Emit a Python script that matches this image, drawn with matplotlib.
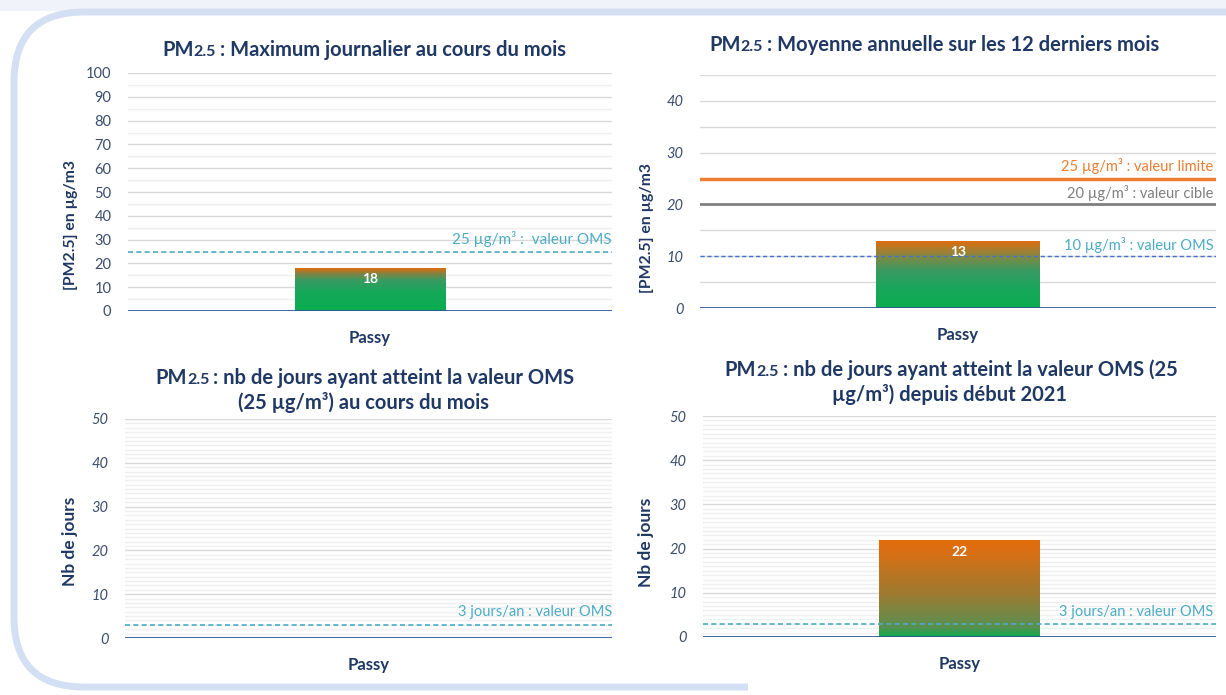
import numpy as np
import matplotlib
matplotlib.use("Agg")
import matplotlib.pyplot as plt
from matplotlib.colors import LinearSegmentedColormap
from matplotlib.patches import FancyBboxPatch, Rectangle

# ---------------- data ----------------
categories = ["Passy"]
max_journalier = [18]          # µg/m3
moyenne_annuelle = [13]        # µg/m3
jours_mois = [0]               # days
jours_depuis_2021 = [22]       # days
seuil_oms_journalier = 25
seuil_limite_annuel = 25
seuil_cible_annuel = 20
seuil_oms_annuel = 10
seuil_oms_jours = 3

plt.rcParams['font.family'] = ['Lato', 'DejaVu Sans']

W, H = 1226, 695
fig = plt.figure(figsize=(W / 100, H / 100), dpi=100)
fig.patch.set_facecolor('white')

NAVY = '#1f3864'
TICK = '#3a4d6c'
GRID_MAJ = '#d9d9d9'
GRID_MIN = '#efefef'
TEAL = '#4bacc6'
GREEN = '#0aad4e'
ORANGE = '#e36c0a'

# ---------------- background frame ----------------
fig.patches.append(Rectangle((0, H - 11), W, 11, transform=None,
                             facecolor='#f0f3f9', edgecolor='none', zorder=-3))
frame = FancyBboxPatch((14, 8), 1400, H - 20, boxstyle="round,pad=0,rounding_size=70",
                       transform=None, facecolor='white', edgecolor='#d3dff2',
                       linewidth=5, zorder=-2)
fig.patches.append(frame)
fig.patches.append(Rectangle((748, 0), W, 16, transform=None,
                             facecolor='white', edgecolor='none', zorder=-1))


def px_axes(left, right, top, bottom):
    ax = fig.add_axes([left / W, 1 - bottom / H, (right - left) / W, (bottom - top) / H])
    ax.set_facecolor('none')
    ax.set_zorder(2)
    return ax


def style_axes(ax, ymax, major, minor, labels_at, italic):
    ax.set_xlim(-0.5, 0.5)
    ax.set_ylim(0, ymax)
    for s in ax.spines.values():
        s.set_visible(False)
    for y in np.arange(minor, ymax + 0.001, minor):
        is_major = abs(y / major - round(y / major)) < 1e-6
        ax.axhline(y, color=GRID_MAJ if is_major else GRID_MIN, lw=1.0, zorder=0.5)
    ax.axhline(0, color='#2f5597', lw=2.0, zorder=4)
    ax.set_yticks(labels_at)
    ax.set_yticklabels([str(int(v)) for v in labels_at],
                       fontsize=10.5, color=TICK, fontstyle='italic' if italic else 'normal')
    ax.tick_params(axis='y', length=0, pad=12)
    ax.tick_params(axis='x', length=0, pad=14)
    ax.set_xticks([0])
    ax.set_xticklabels(categories, fontsize=12, fontweight='bold', color=NAVY)


def gradient_bar(ax, value, width, stops, label_offset):
    bars = ax.bar([0], [value], width, color='none', edgecolor='none', zorder=3)
    if value <= 0:
        return
    cmap = LinearSegmentedColormap.from_list('g', stops)
    grad = np.linspace(0, 1, 256).reshape(-1, 1)
    im = ax.imshow(grad, cmap=cmap, aspect='auto', origin='lower',
                   extent=(-width / 2, width / 2, 0, value), zorder=2.5)
    im.set_clip_path(bars[0])
    ax.annotate(f"{value}", xy=(0, value), xytext=(0, label_offset),
                textcoords='offset points', ha='center', va='center',
                color='white', fontsize=10, fontweight='bold', zorder=5)


TS = 14.5
TS_SMALL = 11.5


def mixed_title(cx, y_px, pieces, gaps):
    renderer = fig.canvas.get_renderer()
    texts = []
    for txt, size in pieces:
        t = fig.text(0, 1 - y_px / H, txt, fontsize=size, fontweight='bold',
                     color=NAVY, va='baseline', ha='left')
        texts.append(t)
    widths = [t.get_window_extent(renderer).width for t in texts]
    total = sum(widths) + sum(gaps)
    x = cx - total / 2
    for i, t in enumerate(texts):
        t.set_x(x / W)
        x += widths[i] + (gaps[i] if i < len(gaps) else 0)


def plain_title(cx, y_px, txt):
    fig.text(cx / W, 1 - y_px / H, txt, fontsize=TS, fontweight='bold',
             color=NAVY, va='baseline', ha='center')


# ---------------- panel 1 ----------------
ax1 = px_axes(128, 612, 73, 311)
style_axes(ax1, 100, 10, 5, list(range(0, 101, 10)), italic=False)
gradient_bar(ax1, max_journalier[0], 0.31,
             [(0, GREEN), (0.45, '#16a85a'), (0.72, '#3a9a62'), (0.88, '#8a8040'), (1, ORANGE)], -8)
ax1.axhline(seuil_oms_journalier, color=TEAL, lw=1.2, ls=(0, (3, 2)), zorder=4)
ax1.text(1.0, 30.2, "25 µg/m³ :  valeur OMS", transform=ax1.get_yaxis_transform(),
         ha='right', va='center', color=TEAL, fontsize=11)
ax1.set_ylabel("[PM2.5] en µg/m3", fontsize=11.3, fontweight='bold', color=NAVY)
ax1.yaxis.set_label_coords(-0.103, 0.36)

# ---------------- panel 2 ----------------
ax2 = px_axes(700, 1216, 75, 308)
style_axes(ax2, 45, 5, 5, list(range(0, 41, 10)), italic=True)
gradient_bar(ax2, moyenne_annuelle[0], 0.316,
             [(0, GREEN), (0.3, '#1aa65c'), (0.55, '#3a9a62'), (0.78, '#8a8640'), (1, ORANGE)], -8)
ax2.axhline(seuil_limite_annuel, color='#ed7d31', lw=2.5, zorder=4)
ax2.axhline(seuil_cible_annuel, color='#808080', lw=2.0, zorder=4)
ax2.axhline(seuil_oms_annuel, color='#4472c4', lw=1.0, ls=(0, (3, 2)), zorder=4)
tr2 = ax2.get_yaxis_transform()
ax2.text(0.995, 27.4, "25 µg/m³ : valeur limite", transform=tr2, ha='right', va='center',
         color='#ed7d31', fontsize=10.5)
ax2.text(0.995, 22.2, "20 µg/m³ : valeur cible", transform=tr2, ha='right', va='center',
         color='#7f7f7f', fontsize=10.5)
ax2.text(0.995, 12.2, "10 µg/m³ : valeur OMS", transform=tr2, ha='right', va='center',
         color=TEAL, fontsize=10.5)
ax2.set_ylabel("[PM2.5] en µg/m3", fontsize=11.3, fontweight='bold', color=NAVY)
ax2.yaxis.set_label_coords(-0.089, 0.343)

# ---------------- panel 3 ----------------
ax3 = px_axes(125, 612, 419, 638)
style_axes(ax3, 50, 10, 1, list(range(0, 51, 10)), italic=True)
gradient_bar(ax3, jours_mois[0], 0.31, [(0, GREEN), (1, ORANGE)], -8)
ax3.axhline(seuil_oms_jours, color=TEAL, lw=1.2, ls=(0, (3, 2)), zorder=4)
ax3.text(1.0, 5.9, "3 jours/an : valeur OMS", transform=ax3.get_yaxis_transform(),
         ha='right', va='center', color=TEAL, fontsize=10.5)
ax3.set_ylabel("Nb de jours", fontsize=12.5, fontweight='bold', color=NAVY)
ax3.yaxis.set_label_coords(-0.0965, 0.44)

# ---------------- panel 4 ----------------
ax4 = px_axes(703, 1216, 416, 637)
style_axes(ax4, 50, 10, 1, list(range(0, 51, 10)), italic=True)
gradient_bar(ax4, jours_depuis_2021[0], 0.312,
             [(0, GREEN), (0.1, '#5a9050'), (0.45, '#a07a30'), (0.9, '#dc6e12'), (1, ORANGE)], -9)
ax4.axhline(seuil_oms_jours, color=TEAL, lw=1.2, ls=(0, (3, 2)), zorder=4)
ax4.text(0.995, 5.7, "3 jours/an : valeur OMS", transform=ax4.get_yaxis_transform(),
         ha='right', va='center', color=TEAL, fontsize=10.5)
ax4.set_ylabel("Nb de jours", fontsize=12.5, fontweight='bold', color=NAVY)
ax4.yaxis.set_label_coords(-0.0955, 0.43)

# ---------------- titles ----------------
g = [0, 4]
mixed_title(364, 56, [("PM", TS), ("2.5", TS_SMALL), (": Maximum journalier au cours du mois", TS)], g)
mixed_title(934, 51, [("PM", TS), ("2.5", TS_SMALL), (": Moyenne annuelle sur les 12 derniers mois", TS)], g)
mixed_title(365, 384, [("PM", TS), ("2.5", TS_SMALL), (": nb de jours ayant atteint la valeur OMS", TS)], g)
plain_title(364, 409, "(25 µg/m³) au cours du mois")
mixed_title(951, 376, [("PM", TS), ("2.5", TS_SMALL), (": nb de jours ayant atteint la valeur OMS (25", TS)], g)
plain_title(950, 401, "µg/m³) depuis début 2021")

fig.savefig("out.png", dpi=100)
